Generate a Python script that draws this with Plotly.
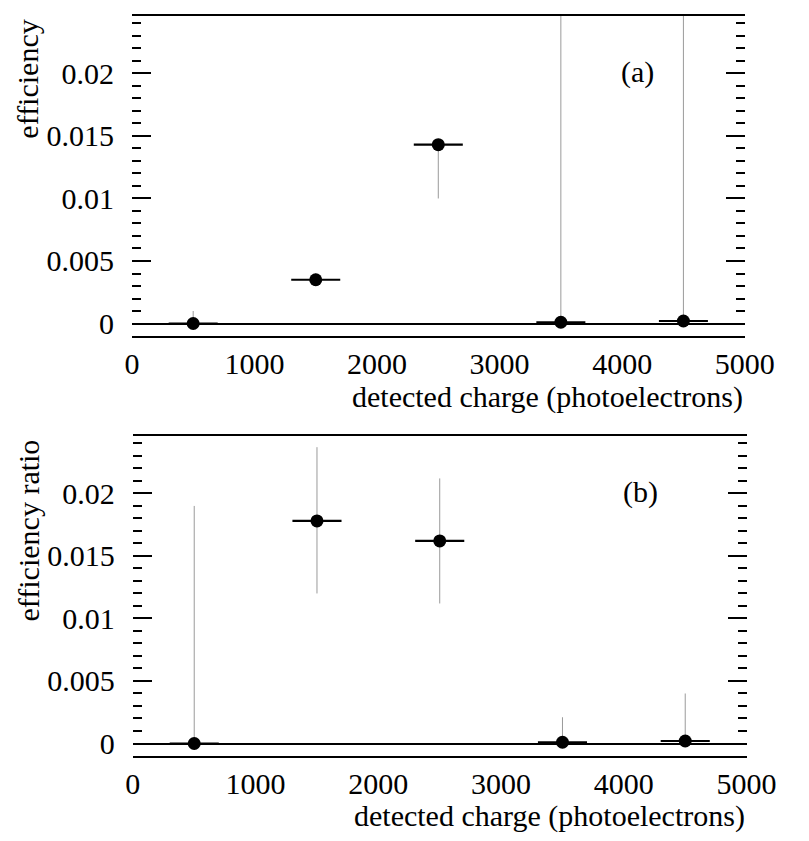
import plotly.graph_objects as go

# ---- data ----
charge = [500, 1500, 2500, 3500, 4500]
charge_halfwidth = [200, 200, 200, 200, 200]

eff_a = [0.0, 0.0035, 0.0143, 0.0001, 0.0002]
eff_a_err_up = [0.001, 0.0005, 0.0, 0.0245, 0.0245]
eff_a_err_down = [0.0, 0.0005, 0.0043, 0.0, 0.0]

ratio_b = [0.0, 0.0178, 0.0162, 0.0001, 0.0002]
ratio_b_err_up = [0.019, 0.0059, 0.005, 0.002, 0.0038]
ratio_b_err_down = [0.0, 0.0058, 0.005, 0.0, 0.0]

y_tickvals = [0, 0.005, 0.01, 0.015, 0.02]
y_ticktext = ["0", "0.005", "0.01", "0.015", "0.02"]
x_tickvals = [0, 1000, 2000, 3000, 4000, 5000]
x_ticktext = ["0", "1000", "2000", "3000", "4000", "5000"]

W, H = 809, 841
FONT = "Liberation Serif"
FS = 30

fig = go.Figure()

def add_panel(y, up, down, xa, ya):
    fig.add_trace(go.Scatter(
        x=charge, y=y, mode="markers",
        marker=dict(color="black", size=13),
        error_x=dict(type="data", array=charge_halfwidth, symmetric=True,
                     color="black", thickness=2.2, width=0),
        error_y=dict(type="data", array=up, arrayminus=down, symmetric=False,
                     color="#9a9a9a", thickness=1, width=0),
        xaxis=xa, yaxis=ya, showlegend=False, cliponaxis=True,
    ))

add_panel(eff_a, eff_a_err_up, eff_a_err_down, "x", "y")
add_panel(ratio_b, ratio_b_err_up, ratio_b_err_down, "x2", "y2")

yrange = [-0.00103, 0.0246]

def xaxis(domain, anchor):
    return dict(domain=domain, anchor=anchor, range=[0, 5000],
                tickvals=x_tickvals, ticktext=x_ticktext, ticks="",
                showline=True, linecolor="black", linewidth=2, mirror=True,
                showgrid=False, zeroline=False,
                tickfont=dict(family=FONT, size=FS, color="black"))

def yaxis(domain, anchor):
    return dict(domain=domain, anchor=anchor, range=yrange,
                tickvals=y_tickvals, ticktext=y_ticktext,
                ticks="inside", ticklen=19, tickwidth=1.5, tickcolor="black",
                minor=dict(dtick=0.001, tick0=0, ticks="inside", ticklen=9,
                           tickwidth=1.5, tickcolor="black", showgrid=False),
                showline=False, mirror="ticks", showgrid=False,
                zeroline=True, zerolinecolor="black", zerolinewidth=2.2,
                ticklabelstandoff=17,
                tickfont=dict(family=FONT, size=FS, color="black"))

top_x = [130 / W, 773 / W]
top_y = [1 - 338 / H, 1 - 16 / H]
bot_x = [131 / W, 775 / W]
bot_y = [1 - 760 / H, 1 - 438 / H]

fig.update_layout(
    width=W, height=H,
    margin=dict(l=0, r=0, t=0, b=0),
    paper_bgcolor="white", plot_bgcolor="white",
    xaxis=xaxis(top_x, "y"), yaxis=yaxis(top_y, "x"),
    xaxis2=xaxis(bot_x, "y2"), yaxis2=yaxis(bot_y, "x2"),
    font=dict(family=FONT, size=FS, color="black"),
)

def ann(text, xpx, ypx, xanchor="center", yanchor="middle", angle=0):
    fig.add_annotation(text=text, x=xpx / W, y=1 - ypx / H, xref="paper", yref="paper",
                       xanchor=xanchor, yanchor=yanchor, textangle=angle, showarrow=False,
                       font=dict(family=FONT, size=FS, color="black"))

ann("efficiency", 21, 80, angle=-90)
ann("efficiency ratio", 21, 533, angle=-90)
ann("detected charge (photoelectrons)", 773, 399, xanchor="right")
ann("detected charge (photoelectrons)", 775, 820, xanchor="right")
ann("(a)", 661, 72)
ann("(b)", 664, 494)

fig.write_html("out.html")
